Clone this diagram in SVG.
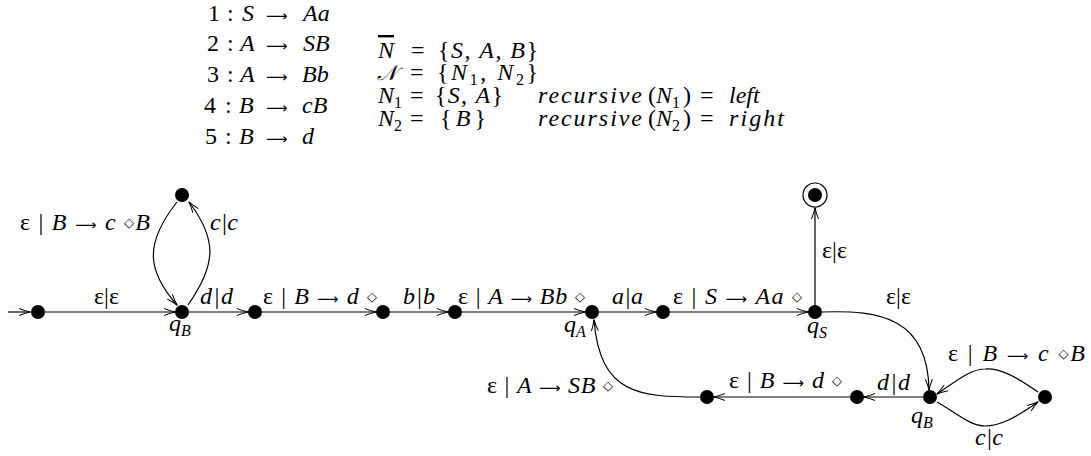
<svg xmlns="http://www.w3.org/2000/svg" width="1091" height="456" viewBox="0 0 1091 456" font-family="'Liberation Serif', 'Times New Roman', serif">
<style>
text{font-family:'Liberation Serif','Times New Roman',serif;font-size:24px;fill:#000}
.i{font-style:italic}
.m{font-size:24px}
.sub{font-size:16px;font-style:normal}
.ls{font-size:16px}
.d{font-family:'DejaVu Sans',sans-serif;font-size:13px;font-style:normal}
.ar{font-family:'DejaVu Sans',sans-serif;font-size:15px;font-style:normal}
.node{fill:#000}
.edge{fill:none;stroke:#000;stroke-width:1.2}
</style>
<defs>
<marker id="ah" viewBox="0 0 12 8" refX="11" refY="4" markerWidth="12" markerHeight="8" markerUnits="userSpaceOnUse" orient="auto">
<path d="M0,0.5 Q6,3 11.5,4 Q6,5 0,7.5" fill="none" stroke="#000" stroke-width="1"/>
</marker>
</defs>
<g id="grammar">
<text y="21" class="m"><tspan x="208">1</tspan><tspan x="227">:</tspan><tspan x="242" class="i">S</tspan><tspan x="266" class="ar">⟶</tspan><tspan x="303" class="i">Aa</tspan></text>
<text y="51" class="m"><tspan x="207">2</tspan><tspan x="227">:</tspan><tspan x="240" class="i">A</tspan><tspan x="266" class="ar">⟶</tspan><tspan x="303" class="i">SB</tspan></text>
<text y="82" class="m"><tspan x="207">3</tspan><tspan x="227">:</tspan><tspan x="240" class="i">A</tspan><tspan x="266" class="ar">⟶</tspan><tspan x="302" class="i">Bb</tspan></text>
<text y="113" class="m"><tspan x="204">4</tspan><tspan x="225">:</tspan><tspan x="239" class="i">B</tspan><tspan x="266" class="ar">⟶</tspan><tspan x="302" class="i">cB</tspan></text>
<text y="144" class="m"><tspan x="205">5</tspan><tspan x="225">:</tspan><tspan x="239" class="i">B</tspan><tspan x="266" class="ar">⟶</tspan><tspan x="302" class="i">d</tspan></text>
</g>
<g id="sets">
<text y="58" class="m"><tspan x="378" class="i" style="text-decoration:overline">N</tspan><tspan x="411">=</tspan></text>
<text x="438" y="58" class="m" textLength="100">{<tspan class="i">S</tspan>, <tspan class="i">A</tspan>, <tspan class="i">B</tspan>}</text>
<text y="80" class="m"><tspan x="377" class="i" style="font-size:21px">𝒩</tspan><tspan x="410">=</tspan></text>
<text x="437" y="80" class="m" textLength="101">{<tspan class="i">N</tspan><tspan class="sub" dy="5">1</tspan><tspan dy="-5">, </tspan><tspan class="i">N</tspan><tspan class="sub" dy="5">2</tspan><tspan dy="-5">}</tspan></text>
<text y="103" class="m"><tspan x="378" class="i">N</tspan><tspan class="sub" dy="5">1</tspan><tspan x="410" dy="-5">=</tspan></text>
<text x="435" y="103" class="m" textLength="68">{<tspan class="i">S</tspan>, <tspan class="i">A</tspan>}</text>
<text y="103" class="m"><tspan x="538" class="i" textLength="104">recursive</tspan><tspan x="648">(</tspan><tspan x="656" class="i">N</tspan><tspan class="sub" dy="5">1</tspan><tspan x="683" dy="-5">)</tspan><tspan x="700">=</tspan><tspan x="729" class="i">left</tspan></text>
<text y="126" class="m"><tspan x="378" class="i">N</tspan><tspan class="sub" dy="5">2</tspan><tspan x="410" dy="-5">=</tspan></text>
<text x="440" y="126" class="m" textLength="46">{<tspan class="i">B</tspan>}</text>
<text y="126" class="m"><tspan x="538" class="i" textLength="104">recursive</tspan><tspan x="648">(</tspan><tspan x="656" class="i">N</tspan><tspan class="sub" dy="5">2</tspan><tspan x="683" dy="-5">)</tspan><tspan x="700">=</tspan><tspan x="729" class="i" textLength="55">right</tspan></text>
</g>
<g id="connectors">
<path class="edge" d="M8,312 L30,312" marker-end="url(#ah)"/>
<path class="edge" d="M45,312 L175,312" marker-end="url(#ah)"/>
<path class="edge" d="M177,202 C143,245 148,272 177,305" marker-end="url(#ah)"/>
<path class="edge" d="M188,305 C216,265 218,240 189,202" marker-end="url(#ah)"/>
<path class="edge" d="M189,312 L248,312" marker-end="url(#ah)"/>
<path class="edge" d="M262,312 L376,312" marker-end="url(#ah)"/>
<path class="edge" d="M390,312 L448,312" marker-end="url(#ah)"/>
<path class="edge" d="M462,312 L585,312" marker-end="url(#ah)"/>
<path class="edge" d="M599,312 L656,312" marker-end="url(#ah)"/>
<path class="edge" d="M670,312 L808,312" marker-end="url(#ah)"/>
<path class="edge" d="M815,305 L815,208" marker-end="url(#ah)"/>
<path class="edge" d="M822,312 C880,310 928,318 929,390" marker-end="url(#ah)"/>
<path class="edge" d="M923,397 L864,397" marker-end="url(#ah)"/>
<path class="edge" d="M850,397 L714,397" marker-end="url(#ah)"/>
<path class="edge" d="M700,397 C640,397 600,395 594,320" marker-end="url(#ah)"/>
<path class="edge" d="M1038,392 C1015,376 1000,368 985,369 C970,369 955,382 937,394" marker-end="url(#ah)"/>
<path class="edge" d="M937,402 C955,412 970,426 985,426 C1000,426 1015,418 1038,402" marker-end="url(#ah)"/>
</g>
<g id="labels">
<text x="20" y="230" textLength="130">ε | <tspan class="i">B</tspan> <tspan class="ar">⟶</tspan> <tspan class="i">c</tspan> <tspan class="d" dy="-3">◇</tspan><tspan class="i" dy="3">B</tspan></text>
<text x="210" y="230" class="i">c|c</text>
<text x="94" y="304">ε|ε</text>
<text x="200" y="304" class="i" textLength="33">d|d</text>
<text x="263" y="304" textLength="114">ε | <tspan class="i">B</tspan> <tspan class="ar">⟶</tspan> <tspan class="i">d</tspan> <tspan class="d" dy="-3">◇</tspan></text>
<text x="403" y="304" class="i" textLength="32">b|b</text>
<text x="458" y="304" textLength="127">ε | <tspan class="i">A</tspan> <tspan class="ar">⟶</tspan> <tspan class="i">Bb</tspan> <tspan class="d" dy="-3">◇</tspan></text>
<text x="612" y="304" class="i" textLength="31">a|a</text>
<text x="673" y="304" textLength="129">ε | <tspan class="i">S</tspan> <tspan class="ar">⟶</tspan> <tspan class="i">Aa</tspan> <tspan class="d" dy="-3">◇</tspan></text>
<text x="822" y="258">ε|ε</text>
<text x="886" y="304">ε|ε</text>
<text x="948" y="361" textLength="137">ε | <tspan class="i">B</tspan> <tspan class="ar">⟶</tspan> <tspan class="i">c</tspan> <tspan class="d" dy="-3">◇</tspan><tspan class="i" dy="3">B</tspan></text>
<text x="877" y="390" class="i" textLength="33">d|d</text>
<text x="729" y="388" textLength="113">ε | <tspan class="i">B</tspan> <tspan class="ar">⟶</tspan> <tspan class="i">d</tspan> <tspan class="d" dy="-3">◇</tspan></text>
<text x="487" y="393" textLength="126">ε | <tspan class="i">A</tspan> <tspan class="ar">⟶</tspan> <tspan class="i">SB</tspan> <tspan class="d" dy="-3">◇</tspan></text>
<text x="975" y="445" class="i">c|c</text>
<text x="169" y="331" class="i">q<tspan class="ls" dy="5">B</tspan></text>
<text x="564" y="332" class="i">q<tspan class="ls" dy="5">A</tspan></text>
<text x="807" y="333" class="i">q<tspan class="ls" dy="5">S</tspan></text>
<text x="911" y="423" class="i">q<tspan class="ls" dy="5">B</tspan></text>
</g>
<g id="n0"><circle class="node" cx="38" cy="312" r="7"/></g>
<g id="qB1"><circle class="node" cx="182" cy="312" r="7"/></g>
<g id="nTop"><circle class="node" cx="182" cy="195" r="7"/></g>
<g id="n2"><circle class="node" cx="255" cy="312" r="7"/></g>
<g id="n3"><circle class="node" cx="383" cy="312" r="7"/></g>
<g id="n4"><circle class="node" cx="455" cy="312" r="7"/></g>
<g id="qA"><circle class="node" cx="592" cy="312" r="7"/></g>
<g id="n6"><circle class="node" cx="663" cy="312" r="7"/></g>
<g id="qS"><circle class="node" cx="815" cy="312" r="7"/></g>
<g id="final"><circle cx="815" cy="195" r="12" fill="none" stroke="#000" stroke-width="1.2"/><circle class="node" cx="815" cy="195" r="7"/></g>
<g id="qB2"><circle class="node" cx="930" cy="397" r="7"/></g>
<g id="nR"><circle class="node" cx="1045" cy="397" r="7"/></g>
<g id="n8"><circle class="node" cx="857" cy="397" r="7"/></g>
<g id="n9"><circle class="node" cx="707" cy="397" r="7"/></g>
</svg>
